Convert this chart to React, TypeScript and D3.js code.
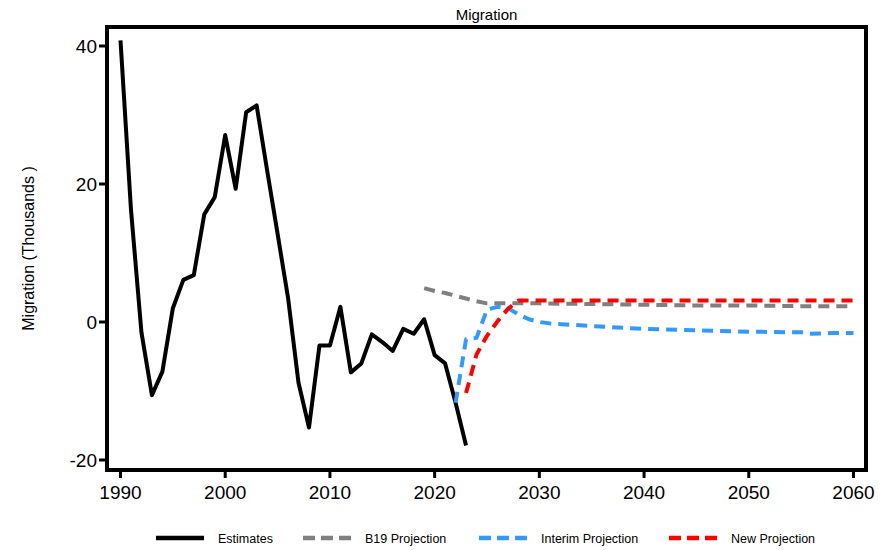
import React from "react";
import * as d3 from "d3";

const estYears = [1990,1991,1992,1993,1994,1995,1996,1997,1998,1999,2000,2001,2002,2003,2004,2005,2006,2007,2008,2009,2010,2011,2012,2013,2014,2015,2016,2017,2018,2019,2020,2021,2022,2023];
const estValues = [40.8,16.3,-1.5,-10.6,-7.2,2.0,6.1,6.8,15.6,18.1,27.1,19.3,30.4,31.4,22.0,12.8,3.5,-8.8,-15.3,-3.4,-3.4,2.2,-7.3,-6.0,-1.8,-2.9,-4.2,-1.0,-1.7,0.4,-4.8,-6.0,-11.7,-17.9];

const b19Years = [2019,2020,2021,2022,2023,2024,2025,2026,2030,2035,2040,2045,2050,2055,2060];
const b19Values = [4.9,4.5,4.2,3.8,3.4,3.0,2.7,2.7,2.7,2.6,2.5,2.4,2.4,2.3,2.3];

const interimYears = [2022,2023,2024,2025,2026,2027,2028,2029,2030,2031,2033,2035,2040,2045,2050,2055,2056,2058,2060];
const interimValues = [-11.7,-2.5,-2.3,1.8,2.2,2.0,1.1,0.4,0.0,-0.2,-0.4,-0.6,-1.0,-1.2,-1.4,-1.5,-1.7,-1.6,-1.6];

const newYears = [2023,2024,2025,2026,2027,2028,2030,2040,2050,2060];
const newValues = [-10.3,-4.7,-2.0,0.1,1.9,3.1,3.1,3.1,3.1,3.1];

const xTicks = [1990,2000,2010,2020,2030,2040,2050,2060];
const yTicks = [-20,0,20,40];

const seriesNames = ["Estimates","B19 Projection","Interim Projection","New Projection"];
const seriesColors = ["#000000","#808080","#3399FF","#FF0000"];

const FONT = "'Liberation Sans', Arial, sans-serif";

export default function App() {
  const W = 891, H = 550;
  const box = { left: 107, right: 866, top: 27, bottom: 470 };
  const x = d3.scaleLinear().domain([1990, 2060]).range([120.5, 853.5]);
  const y = d3.scaleLinear().domain([-20, 40]).range([460, 46]);
  const line = d3.line<[number, number]>().x(d => x(d[0])).y(d => y(d[1]));
  const mk = (ys: number[], vs: number[]) => line(ys.map((yr, i) => [yr, vs[i]] as [number, number])) || "";

  const series = [
    { d: mk(estYears, estValues), dash: "" },
    { d: mk(b19Years, b19Values), dash: "11,7" },
    { d: mk(interimYears, interimValues), dash: "11,7" },
    { d: mk(newYears, newValues), dash: "11,7" },
  ];

  const legendX = [156, 303, 479, 669];
  const legendY = 538;

  return (
    <svg width={W} height={H} style={{ position: "absolute", left: 0, top: 0, background: "#fff" }}>
      <rect x={0} y={0} width={W} height={H} fill="#fff" />
      <text x={(box.left + box.right) / 2} y={20} textAnchor="middle" fontFamily={FONT} fontSize={15} fill="#000">Migration</text>
      <defs>
        <clipPath id="plotclip">
          <rect x={box.left} y={box.top} width={box.right - box.left} height={box.bottom - box.top} />
        </clipPath>
      </defs>
      <g clipPath="url(#plotclip)">
        {series.map((s, i) => (
          <path key={i} d={s.d} fill="none" stroke={seriesColors[i]} strokeWidth={4}
            strokeDasharray={s.dash || undefined} strokeLinejoin="round" strokeLinecap="butt" />
        ))}
      </g>
      <rect x={box.left} y={box.top} width={box.right - box.left} height={box.bottom - box.top}
        fill="none" stroke="#000" strokeWidth={4} />
      {yTicks.map(t => (
        <g key={t}>
          <line x1={box.left - 8} x2={box.left} y1={y(t)} y2={y(t)} stroke="#000" strokeWidth={3} />
          <text x={97} y={y(t) + 7} textAnchor="end" fontFamily={FONT} fontSize={19} fill="#000">{t}</text>
        </g>
      ))}
      {xTicks.map(t => (
        <g key={t}>
          <line x1={x(t)} x2={x(t)} y1={box.bottom} y2={box.bottom + 8} stroke="#000" strokeWidth={3} />
          <text x={x(t)} y={499} textAnchor="middle" fontFamily={FONT} fontSize={19} fill="#000">{t}</text>
        </g>
      ))}
      <text transform={`translate(34,${(box.top + box.bottom) / 2}) rotate(-90)`} textAnchor="middle"
        fontFamily={FONT} fontSize={16} fill="#000">Migration (Thousands )</text>
      {seriesNames.map((n, i) => (
        <g key={n}>
          <line x1={legendX[i]} x2={legendX[i] + 48} y1={legendY} y2={legendY} stroke={seriesColors[i]} strokeWidth={4.5}
            strokeDasharray={i === 0 ? undefined : "12,6"} />
          <text x={legendX[i] + 62} y={legendY + 4.5} fontFamily={FONT} fontSize={12.5} fill="#000">{n}</text>
        </g>
      ))}
    </svg>
  );
}
